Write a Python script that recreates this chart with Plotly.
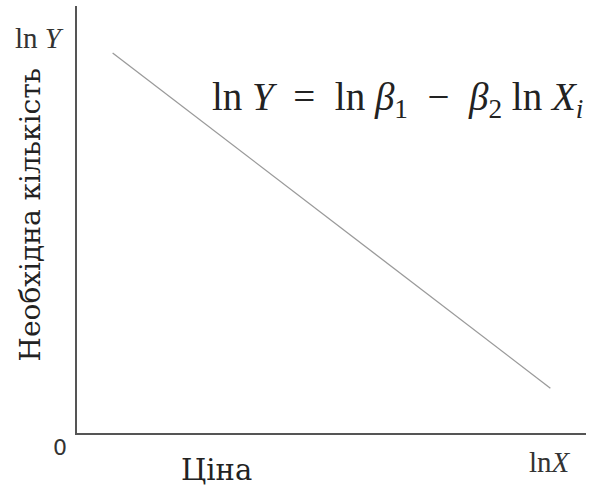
import plotly.graph_objects as go

# Log-log demand line: ln Y against ln X
ln_x = [0.07, 0.93]
ln_y = [0.89, 0.105]

y_title = "Необхідна кількість"
x_title = "Ціна"
origin_label = "0"
y_axis_label = "ln <i>Y</i>"
x_axis_label = "ln<i>X</i>"
equation = ("ln <i>Y</i>  =  ln <i>β</i><sub>1</sub>  −  "
            "<i>β</i><sub>2</sub> ln <i>X<sub>i</sub></i>")

serif = "Liberation Serif, Times New Roman, serif"
slab = "DejaVu Serif, serif"


def label(text, x, y, family, size, color="#222222", **kw):
    return dict(text=text, x=x, y=y, xref="paper", yref="paper",
                xanchor=kw.pop("xanchor", "center"), yanchor="middle",
                showarrow=False, font=dict(family=family, size=size, color=color), **kw)


fig = go.Figure()
fig.add_trace(go.Scatter(
    x=ln_x, y=ln_y, mode="lines",
    line=dict(color="#9a9a9a", width=1.3),
    hoverinfo="skip", showlegend=False,
))

fig.update_xaxes(range=[0, 1], showline=True, linecolor="#555555", linewidth=2,
                 showgrid=False, zeroline=False, showticklabels=False, ticks="")
fig.update_yaxes(range=[0, 1], showline=True, linecolor="#555555", linewidth=2,
                 showgrid=False, zeroline=False, showticklabels=False, ticks="")

annotations = [
    label(y_axis_label, -0.073, 0.925, serif, 29, "#333333"),
    label(x_axis_label, 0.929, -0.068, serif, 29, "#333333"),
    label(origin_label, -0.034, -0.035, "DejaVu Sans, sans-serif", 22, "#333333"),
    label(y_title, -0.092, 0.51, slab, 28, textangle=-90),
    label(x_title, 0.275, -0.087, slab, 29),
    label(equation, 0.998, 0.78, serif, 39, xanchor="right"),
]

fig.update_layout(
    width=592, height=488,
    margin=dict(l=77, r=6, t=6, b=55),
    paper_bgcolor="white", plot_bgcolor="white",
    annotations=annotations,
)

fig.write_html("out.html")
